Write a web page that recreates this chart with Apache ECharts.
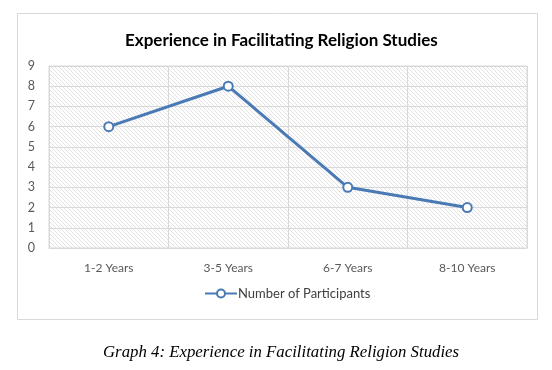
<!DOCTYPE html>
<html>
<head>
<meta charset="utf-8">
<script src="https://cdn.jsdelivr.net/npm/echarts@6/dist/echarts.min.js"></script>
<style>
	html, body { margin: 0; padding: 0; background: #fff; }
	#main { width: 552px; height: 370px; }
</style>
</head>
<body>
<div id="main"></div>
<script>
var categories = ['1-2 Years', '3-5 Years', '6-7 Years', '8-10 Years'];
var participants = [6, 8, 3, 2];
var yTicks = [0, 1, 2, 3, 4, 5, 6, 7, 8, 9];

// diagonal hatch for the plot background
var makeHatch = function(){
	var c = document.createElement('canvas');
	c.width = 4; c.height = 4;
	var ctx = c.getContext('2d');
	ctx.fillStyle = '#ffffff';
	ctx.fillRect(0, 0, 4, 4);
	ctx.strokeStyle = '#e2e2e2';
	ctx.lineWidth = 1;
	ctx.beginPath();
	ctx.moveTo(0, 0); ctx.lineTo(4, 4);
	ctx.moveTo(-1, 3); ctx.lineTo(1, 5);
	ctx.moveTo(3, -1); ctx.lineTo(5, 1);
	ctx.stroke();
	return c;
};

var chart = echarts.init(document.getElementById('main'));
var option = {
	animation: false,
	title: [
		{
			text: 'Experience in Facilitating Religion Studies',
			left: 120,
			top: 27,
			textStyle: { fontFamily: 'Lato', fontWeight: 'bold', fontSize: 17, color: '#000' }
		},
		{
			text: 'Graph 4: Experience in Facilitating Religion Studies',
			left: 98,
			top: 339,
			textStyle: { fontFamily: 'Liberation Serif', fontStyle: 'italic', fontWeight: 'normal', fontSize: 16.8, color: '#000' }
		}
	],
	graphic: [{
		type: 'rect',
		shape: { x: 17.5, y: 13.5, width: 520, height: 306 },
		style: { fill: 'none', stroke: '#d9d9d9', lineWidth: 1 },
		silent: true
	}],
	legend: {
		bottom: 65,
		left: 199,
		itemWidth: 32,
		itemHeight: 10,
		itemGap: 2,
		textStyle: { fontFamily: 'Lato', fontSize: 13, color: '#404040', padding: [0, 0, 0, -4] },
		data: ['Number of Participants']
	},
	grid: {
		left: 49, right: 25, top: 66, bottom: 122,
		show: true,
		backgroundColor: { image: makeHatch(), repeat: 'repeat' },
		borderColor: '#d9d9d9',
		borderWidth: 1
	},
	xAxis: {
		type: 'category',
		data: categories,
		boundaryGap: true,
		axisLine: { lineStyle: { color: '#d9d9d9' } },
		axisTick: { show: false },
		axisLabel: { margin: 14, fontFamily: 'Lato', fontSize: 12, color: '#595959' },
		splitLine: { show: true, interval: 0, lineStyle: { color: '#d9d9d9' } }
	},
	yAxis: {
		type: 'value',
		min: yTicks[0],
		max: yTicks[yTicks.length - 1],
		interval: 1,
		axisLine: { show: false },
		axisTick: { show: false },
		axisLabel: { margin: 14, fontFamily: 'Lato', fontSize: 12.5, color: '#595959' },
		splitLine: { lineStyle: { color: '#d9d9d9' } }
	},
	series: [{
		name: 'Number of Participants',
		type: 'line',
		data: participants,
		symbol: 'emptyCircle',
		symbolSize: 9,
		lineStyle: { color: '#4a7ab5', width: 3 },
		itemStyle: { color: '#4a7ab5', borderColor: '#4a7ab5', borderWidth: 2 }
	}]
};
chart.setOption(option, true);
</script>
</body>
</html>
